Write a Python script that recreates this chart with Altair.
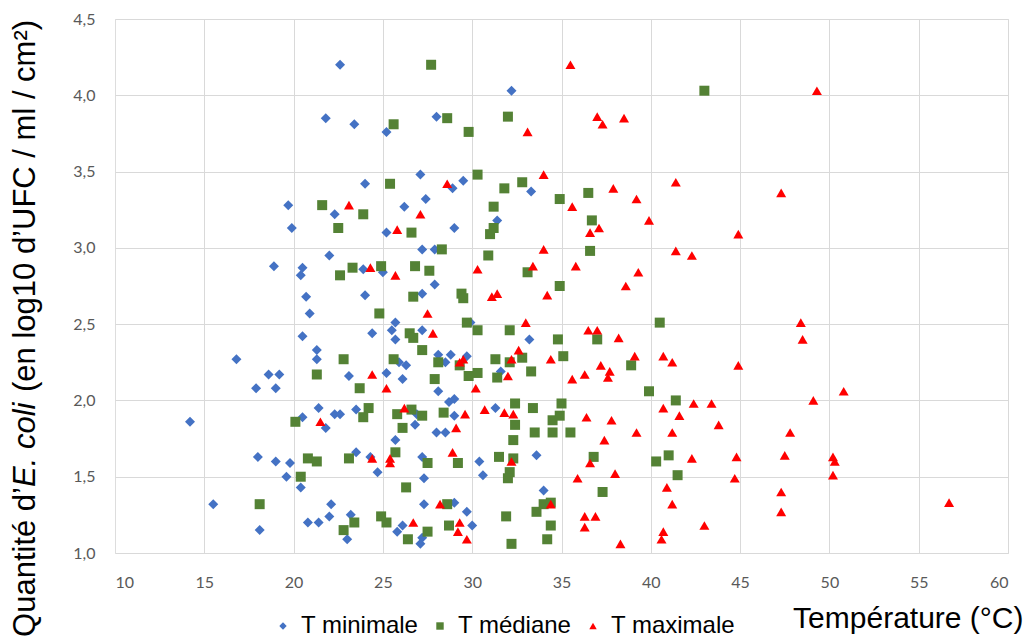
import altair as alt
import pandas as pd

series_names = ["T minimale", "T médiane", "T maximale"]
series_colors = ["#4472C4", "#548235", "#FF0000"]
series_shapes = ["diamond", "square", "triangle-up"]

tmin_temp = [22.6, 21.8, 23.4, 25.2, 24.0, 19.7, 22.3, 19.9, 25.2, 22.0, 18.9, 20.5, 20.4, 23.9, 25.0,
             20.7, 24.0, 20.9, 20.5, 21.3, 21.3, 23.1, 24.4, 25.7, 25.5, 25.7, 25.2, 21.4, 20.5, 21.8,
             22.3, 22.6, 23.5, 25.7, 23.5, 24.3, 24.7, 22.1, 22.0, 20.8, 21.4, 23.2, 23.0, 25.8, 16.8,
             17.9, 18.6, 19.2, 19.0, 14.2, 15.5, 18.1, 18.0, 19.0, 19.8, 19.6, 20.4, 28.0, 32.2, 27.1,
             26.2, 27.4, 28.9, 29.5, 33.3, 29.0, 31.4, 27.2, 27.9, 27.2, 27.9, 27.2, 26.1, 25.9, 26.3,
             28.1, 28.8, 29.7, 28.5, 28.1, 29.9, 31.6, 33.2, 31.3, 28.7, 29.0, 29.0, 26.9, 26.8, 28.0,
             28.5, 27.2, 27.3, 30.4, 30.6, 33.6, 34.0, 27.3, 29.0, 29.7, 30.0, 26.1, 27.2, 27.1]
tmin_qty = [4.20, 3.85, 3.81, 3.76, 3.42, 3.28, 3.22, 3.13, 3.10, 2.95, 2.88, 2.87, 2.82, 2.86, 2.84,
            2.68, 2.69, 2.57, 2.42, 2.33, 2.27, 2.16, 2.44, 2.51, 2.46, 2.40, 2.18, 1.95, 1.89, 1.82,
            1.91, 1.91, 1.94, 1.74, 1.66, 1.63, 1.53, 1.32, 1.24, 1.20, 1.20, 1.25, 1.09, 1.14, 2.27,
            2.08, 2.17, 2.17, 2.08, 1.86, 1.32, 1.15, 1.63, 1.60, 1.59, 1.50, 1.43, 3.86, 4.03, 3.48,
            3.27, 3.32, 3.39, 3.44, 3.37, 3.13, 3.18, 2.99, 2.99, 2.70, 2.76, 2.46, 2.14, 2.25, 2.23,
            2.30, 2.30, 2.29, 2.25, 2.06, 2.51, 2.19, 2.40, 1.95, 1.99, 2.01, 1.90, 1.91, 1.84, 1.79,
            1.79, 1.63, 1.49, 1.60, 1.51, 1.64, 1.41, 1.32, 1.33, 1.27, 1.18, 1.18, 1.10, 1.06]

tmed_temp = [25.6, 25.4, 21.6, 23.9, 22.5, 23.3, 22.6, 24.9, 24.8, 22.8, 21.3, 25.6, 23.7, 24.2, 23.9,
             20.1, 25.8, 20.8, 21.3, 23.1, 25.7, 20.4, 18.1, 23.4, 22.8, 24.9, 25.2, 27.7, 28.6, 29.8,
             32.0, 30.3, 31.8, 32.8, 34.9, 36.5, 31.2, 31.2, 31.0, 26.6, 36.7, 28.3, 30.9, 36.6, 26.8,
             27.6, 33.1, 34.9, 26.7, 29.4, 29.5, 29.7, 30.3, 32.1, 40.5, 26.5, 26.7, 34.8, 37.0, 27.2,
             28.1, 29.3, 31.3, 32.1, 32.8, 35.1, 38.9, 27.9, 29.8, 30.3, 31.4, 33.3, 39.9, 41.4, 26.6,
             27.2, 28.4, 32.4, 33.4, 35.0, 34.5, 34.9, 32.4, 26.1, 33.5, 34.5, 35.5, 32.3, 27.5, 29.2,
             31.5, 32.3, 36.8, 40.3, 41.0, 41.5, 32.1, 32.0, 26.3, 37.3, 28.6, 33.6, 34.0, 34.4, 31.9,
             28.7, 34.4, 27.5, 26.4, 34.2, 32.2, 43.0]
tmed_qty = [3.81, 3.42, 3.28, 3.22, 3.13, 2.87, 2.82, 2.88, 2.57, 2.27, 2.17, 2.27, 2.08, 1.95, 1.89,
            1.86, 1.91, 1.62, 1.60, 1.62, 1.66, 1.50, 1.32, 1.20, 1.15, 1.24, 1.20, 4.20, 3.85, 3.76,
            3.86, 3.48, 3.39, 3.43, 3.32, 3.36, 3.27, 3.13, 3.09, 3.10, 3.18, 2.99, 2.95, 2.98, 2.88,
            2.85, 2.84, 2.75, 2.68, 2.70, 2.67, 2.51, 2.46, 2.46, 2.51, 2.44, 2.41, 2.40, 2.40, 2.33,
            2.25, 2.23, 2.27, 2.25, 2.28, 2.29, 2.23, 2.14, 2.16, 2.18, 2.15, 2.19, 2.06, 2.00, 1.94,
            1.90, 1.92, 1.98, 1.95, 1.98, 1.87, 1.90, 1.84, 1.82, 1.79, 1.79, 1.79, 1.74, 1.59, 1.59,
            1.63, 1.62, 1.63, 1.60, 1.64, 1.51, 1.53, 1.49, 1.43, 1.40, 1.32, 1.27, 1.32, 1.33, 1.24,
            1.18, 1.18, 1.14, 1.09, 1.09, 1.06, 4.03]

tmax_temp = [23.1, 25.8, 24.3, 25.7, 24.4, 25.2, 21.5, 24.4, 25.4, 25.4, 35.5, 37.0, 37.3, 38.5, 33.1,
             34.0, 28.6, 41.4, 37.9, 39.2, 35.6, 27.1, 39.9, 37.1, 36.6, 34.0, 41.4, 42.3, 33.4, 35.8,
             30.3, 39.3, 38.6, 31.4, 31.1, 34.2, 27.5, 27.8, 33.0, 36.5, 37.0, 38.2, 39.1, 40.7, 41.2,
             29.5, 29.3, 32.6, 32.2, 34.4, 37.2, 37.7, 37.6, 36.3, 35.6, 32.0, 30.2, 26.2, 29.6, 30.7,
             31.8, 32.3, 36.4, 37.8, 40.7, 41.6, 42.4, 29.1, 39.2, 41.2, 37.4, 28.9, 32.2, 36.6, 42.3,
             35.9, 38.0, 40.9, 41.2, 28.2, 34.4, 26.7, 29.3, 29.2, 29.7, 36.3, 36.9, 36.3, 38.3, 40.7,
             40.6, 49.3, 47.3, 44.9, 48.4, 48.5, 44.9, 50.8, 49.1, 43.4, 43.8, 47.8, 44.8, 47.5, 50.2,
             50.3, 44.7, 50.2, 47.3, 47.3, 43.0, 56.7]
tmax_qty = [3.28, 3.12, 2.87, 2.82, 2.17, 2.08, 1.86, 1.62, 1.62, 1.59, 4.20, 3.86, 3.81, 3.85, 3.76,
            3.48, 3.42, 3.43, 3.39, 3.32, 3.27, 3.22, 3.18, 3.13, 3.10, 2.99, 2.98, 2.95, 2.88, 2.88,
            2.86, 2.84, 2.75, 2.70, 2.68, 2.69, 2.57, 2.44, 2.51, 2.46, 2.46, 2.41, 2.29, 2.29, 2.25,
            2.27, 2.25, 2.33, 2.27, 2.27, 2.23, 2.19, 2.15, 2.17, 2.14, 2.16, 2.08, 1.95, 1.91, 1.94,
            1.92, 1.91, 1.89, 1.87, 1.95, 1.90, 1.98, 1.82, 1.79, 1.79, 1.74, 1.66, 1.60, 1.59, 1.62,
            1.49, 1.52, 1.43, 1.32, 1.32, 1.32, 1.20, 1.20, 1.14, 1.09, 1.24, 1.24, 1.17, 1.06, 1.14,
            1.09, 4.03, 3.36, 3.09, 2.51, 2.40, 2.23, 2.06, 2.00, 1.98, 1.84, 1.79, 1.63, 1.64, 1.63,
            1.60, 1.49, 1.51, 1.40, 1.27, 1.18, 1.33]

x_ticks = [10, 15, 20, 25, 30, 35, 40, 45, 50, 55, 60]
y_ticks = [1.0, 1.5, 2.0, 2.5, 3.0, 3.5, 4.0, 4.5]

frames = []
for name, ts, qs in [(series_names[0], tmin_temp, tmin_qty),
                     (series_names[1], tmed_temp, tmed_qty),
                     (series_names[2], tmax_temp, tmax_qty)]:
    frames.append(pd.DataFrame({"temp": ts, "qty": qs, "serie": name}))
df = pd.concat(frames, ignore_index=True)
df["ordre"] = range(len(df))

W, H = 893, 534

points = alt.Chart(df).mark_point(filled=True, opacity=1, strokeWidth=0, size=100).encode(
    x=alt.X("temp:Q",
            scale=alt.Scale(domain=[10, 60], nice=False, zero=False),
            axis=alt.Axis(values=x_ticks, title="Température (°C)", grid=True,
                          gridColor="#d9d9d9", gridWidth=1,
                          gridOpacity={"condition": {"test": "datum.value === 10", "value": 0}, "value": 1},
                          domain=False, ticks=False, tickSize=0, labelPadding=21,
                          labelFont="Lato", labelFontSize=16, labelColor="#595959",
                          titleFont="Liberation Sans", titleFontSize=30, titleFontWeight="normal",
                          titleColor="#000000", titleAlign="right", titleBaseline="alphabetic",
                          titleX=908, titleY=74)),
    y=alt.Y("qty:Q",
            scale=alt.Scale(domain=[1.0, 4.5], nice=False, zero=False),
            axis=alt.Axis(values=y_ticks, title=None, grid=True, gridColor="#d9d9d9", gridWidth=1,
                          domain=False, ticks=False, tickSize=0, labelPadding=20,
                          labelExpr="replace(format(datum.value, '.1f'), '.', ',')",
                          labelFont="Lato", labelFontSize=16, labelColor="#595959")),
    color=alt.Color("serie:N", scale=alt.Scale(domain=series_names, range=series_colors),
                    legend=alt.Legend(title=None, orient="none", direction="horizontal",
                                      legendX=156, legendY=595, padding=0,
                                      labelFont="Liberation Sans", labelFontSize=24,
                                      labelColor="#000000", symbolSize=55, labelOffset=6,
                                      columnPadding=9, symbolStrokeWidth=0)),
    shape=alt.Shape("serie:N", scale=alt.Scale(domain=series_names, range=series_shapes)),
    order=alt.Order("ordre:Q"),
)

one = pd.DataFrame({"a": [0]})
title_font = "Liberation Sans"
title_size = 31
ytitle_a = alt.Chart(one).mark_text(text="Quantité d’", angle=270, align="right",
                                    baseline="alphabetic", font=title_font, fontSize=title_size,
                                    color="#000000").encode(x=alt.value(-80), y=alt.value(468))
ytitle_b = alt.Chart(one).mark_text(text="E. coli", angle=270, align="left",
                                    baseline="alphabetic", font=title_font, fontSize=title_size,
                                    fontStyle="italic", color="#000000").encode(x=alt.value(-80), y=alt.value(468))
ytitle_c = alt.Chart(one).mark_text(text="(en log10 d’UFC / ml / cm²)", angle=270, align="left",
                                    baseline="alphabetic", font=title_font, fontSize=title_size,
                                    color="#000000").encode(x=alt.value(-80), y=alt.value(373))

chart = alt.layer(points, ytitle_a, ytitle_b, ytitle_c).properties(
    width=W, height=H,
    autosize=alt.AutoSizeParams(type="none"),
    padding={"left": 115, "top": 19, "right": 22, "bottom": 86},
).configure_view(strokeWidth=0).configure(background="#ffffff")

chart.save("out.html", embed_options={"renderer": "svg", "actions": False})
